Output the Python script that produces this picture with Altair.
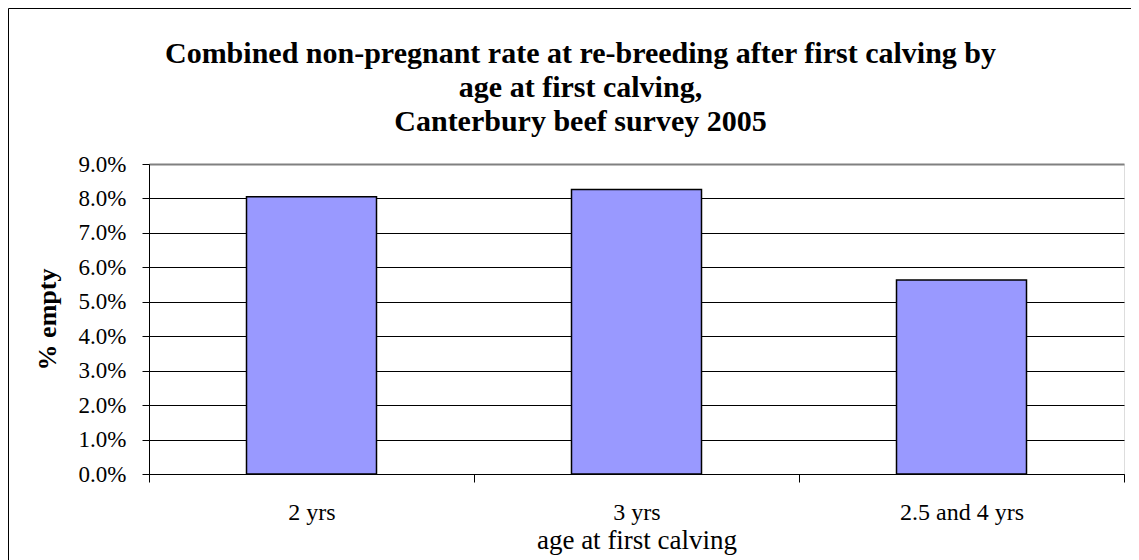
import altair as alt
import pandas as pd

categories = ["2 yrs", "3 yrs", "2.5 and 4 yrs"]
values = [0.0805, 0.0826, 0.0563]
y_ticks = [0.0, 0.01, 0.02, 0.03, 0.04, 0.05, 0.06, 0.07, 0.08, 0.09]
title_lines = [
    "Combined non-pregnant rate at re-breeding after first calving by",
    "age at first calving,",
    "Canterbury beef survey 2005",
]

df = pd.DataFrame({"age": categories, "rate": values})
FONT = "Liberation Serif"

bars = alt.Chart(df).mark_bar(
    color="#9999FF", stroke="black", strokeWidth=1.5,
    width=alt.RelativeBandSize(0.4),
).encode(
    x=alt.X(
        "age:N",
        sort=categories,
        scale=alt.Scale(paddingInner=0, paddingOuter=0),
        axis=alt.Axis(
            title="age at first calving",
            titleFont=FONT, titleFontSize=27, titleFontWeight="normal",
            titleColor="black", titleBaseline="alphabetic", titleY=74,
            labelAngle=0, labelFont=FONT, labelFontSize=24, labelColor="black",
            labelBaseline="alphabetic", labelPadding=37,
            tickBand="extent", tickSize=8, tickColor="black", tickWidth=1,
            domainColor="black", domainWidth=1, grid=False,
        ),
    ),
    y=alt.Y(
        "rate:Q",
        scale=alt.Scale(domain=[0, 0.09], nice=False),
        axis=alt.Axis(
            title="% empty",
            titleFont=FONT, titleFontSize=26, titleFontWeight="bold",
            titleColor="black", titleAngle=270, titleAlign="center",
            titleBaseline="alphabetic", titleX=-94, titleY=155,
            values=y_ticks, format=".1%",
            labelFont=FONT, labelFontSize=23, labelColor="black",
            labelPadding=16, tickSize=7, tickColor="black", tickWidth=1,
            domainColor="black", domainWidth=1,
            grid=True,
            gridColor={"condition": {"test": "datum.value >= 0.089", "value": "#808080"}, "value": "black"},
            gridWidth={"condition": {"test": "datum.value >= 0.089", "value": 2}, "value": 1},
        ),
    ),
)

frame = alt.Chart(pd.DataFrame({"k": [0]})).mark_rect(
    filled=False, stroke="black", strokeWidth=1
).encode(
    x=alt.value(-140.5), x2=alt.value(2000),
    y=alt.value(-155.5), y2=alt.value(1000),
)

chart = alt.layer(frame, bars).properties(
    width=975,
    height=310,
    title=alt.TitleParams(
        text=title_lines, font=FONT, fontSize=30, fontWeight="bold",
        color="black", anchor="middle", baseline="bottom", lineHeight=34,
        offset=0, dx=-56, dy=159,
    ),
    padding={"left": 141, "top": 156, "right": 7, "bottom": 86},
    autosize=alt.AutoSizeParams(type="none"),
).configure_view(
    stroke="#808080", strokeWidth=2
).configure(background="white")

chart.save("out.html", embed_options={"renderer": "svg", "actions": False})
